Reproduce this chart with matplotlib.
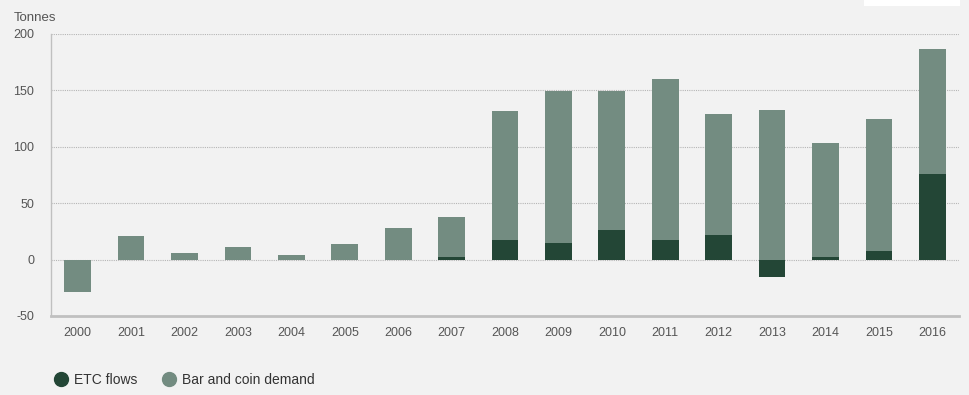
import numpy as np
import matplotlib.pyplot as plt
from matplotlib.lines import Line2D
from matplotlib.patches import Rectangle

plt.rcParams['font.family'] = ['Liberation Sans', 'DejaVu Sans']
plt.rcParams['axes.unicode_minus'] = False

years = [str(y) for y in range(2000, 2017)]
etc_flows = [0, 0, 0, 0, 0, 0, 0, 2.5, 17, 15, 26.5, 17, 22, -15, 2.5, 8, 76]
bar_coin = [-29, 21, 5.5, 11.5, 4.5, 14, 28, 35.5, 114.5, 134.5, 123, 143, 107.5, 132.5, 100.5, 116.5, 110.5]

dark = '#234636'
light = '#738c81'
bg = '#f2f2f2'

fig = plt.figure(figsize=(9.7, 3.95), dpi=100, facecolor=bg)
ax = fig.add_axes([51 / 970, 1 - 316 / 395, 908 / 970, 282 / 395])
ax.set_facecolor(bg)

x = np.arange(len(years))
etc = np.array(etc_flows)
bc = np.array(bar_coin)
bc_bottom = np.where(bc >= 0, np.maximum(etc, 0), np.minimum(etc, 0))

ax.bar(x, etc, width=0.5, color=dark, zorder=3)
ax.bar(x, bc, bottom=bc_bottom, width=0.5, color=light, zorder=3)

ax.set_xlim(-0.5, len(years) - 0.5)
ax.set_ylim(-50, 200)
ax.set_yticks([-50, 0, 50, 100, 150, 200])
ax.set_xticks(x)
ax.set_xticklabels(years)
ax.tick_params(axis='both', length=0, labelsize=9, colors='#555555')
ax.tick_params(axis='x', pad=8)
ax.tick_params(axis='y', pad=12)

ax.grid(axis='y', color='#b5b5b5', linestyle=(0, (1, 1)), linewidth=0.8, zorder=0)
ax.set_axisbelow(True)
for s in ['top', 'right']:
    ax.spines[s].set_visible(False)
ax.spines['left'].set_color('#c0c0c0')
ax.spines['left'].set_linewidth(1.0)
ax.spines['bottom'].set_color('#c0c0c0')
ax.spines['bottom'].set_linewidth(2.0)

fig.text(14 / 970, 1 - 18 / 395, 'Tonnes', fontsize=9.5, color='#555555', va='center', ha='left')

handles = [
    Line2D([], [], marker='o', linestyle='none', markersize=10, color=dark),
    Line2D([], [], marker='o', linestyle='none', markersize=10, color=light),
]
fig.legend(handles, ['ETC flows', 'Bar and coin demand'], loc='center left',
           bbox_to_anchor=(42 / 970, 1 - 380 / 395), ncol=2, frameon=False,
           fontsize=10, labelcolor='#333333', handletextpad=0.4, columnspacing=1.8,
           handlelength=1.0)

fig.patches.append(Rectangle((864 / 970, 1 - 6 / 395), 96 / 970, 6 / 395,
                             transform=fig.transFigure, facecolor='white', edgecolor='none'))

fig.savefig('out.png', dpi=100, facecolor=bg)
